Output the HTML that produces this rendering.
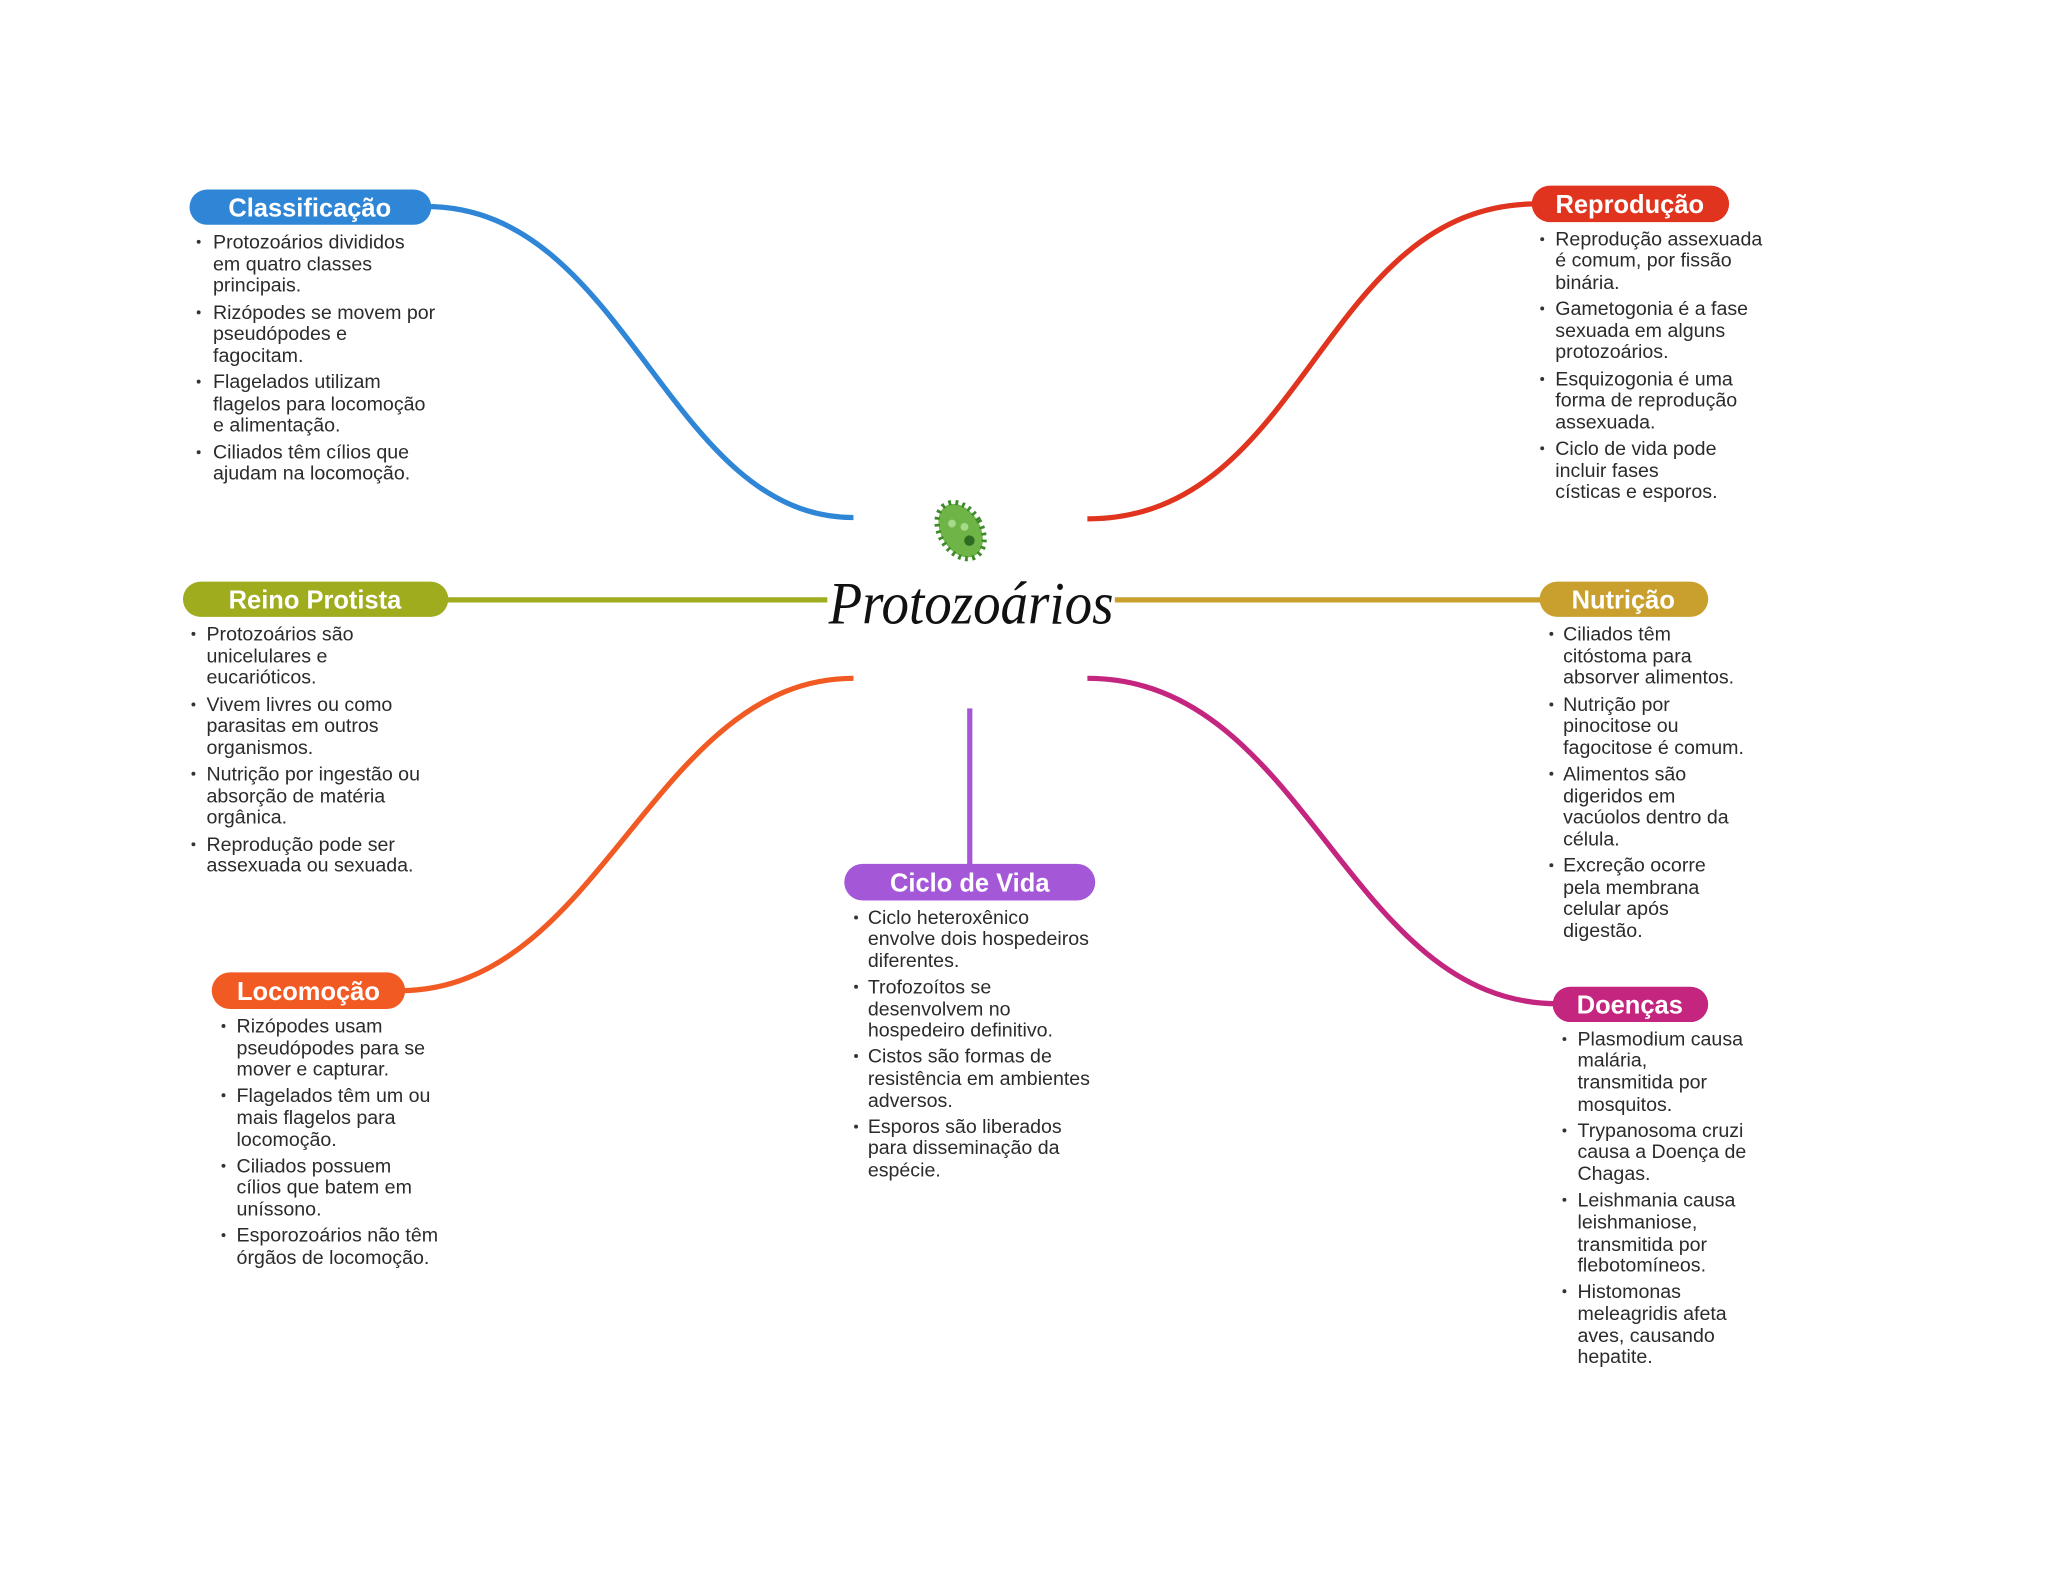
<!DOCTYPE html>
<html><head><meta charset="utf-8"><style>
html,body{margin:0;padding:0;background:#fff;}
svg{display:block;}
.t{font-family:"Liberation Sans",sans-serif;font-size:15px;fill:#2b2b2b;}
.h{font-family:"Liberation Sans",sans-serif;font-size:19.5px;font-weight:bold;fill:#fff;text-anchor:middle;}
</style></head><body>
<svg width="2048" height="1569" viewBox="0 0 1567 1200.5" xmlns="http://www.w3.org/2000/svg">
<rect width="1567" height="1201" fill="#fff"/>
<g fill="none" stroke-width="4">
<path d="M326,158 C480,158 510,396 653,396" stroke="#2f86d6"/>
<path d="M832,397 C1000,397 1010,156 1176,156" stroke="#e0341f"/>
<path d="M340,459 L633,459" stroke="#9fac1e"/>
<path d="M853,459 L1180,459" stroke="#c9a02e"/>
<path d="M306,758 C460,758 500,519 653,519" stroke="#f25a24"/>
<path d="M832,519 C1000,519 1030,768 1192,768" stroke="#c4257f"/>
<path d="M742,542 L742,663" stroke="#a458d8"/>
</g>
<rect x="145" y="145" width="185" height="27" rx="13.5" fill="#2f86d6"/>
<text class="h" x="237" y="165.5">Classificação</text>
<rect x="1172" y="142" width="151" height="28" rx="14" fill="#e0341f"/>
<text class="h" x="1247" y="163">Reprodução</text>
<rect x="140" y="445" width="203" height="27" rx="13.5" fill="#9fac1e"/>
<text class="h" x="241" y="465.5">Reino Protista</text>
<rect x="1178" y="445" width="129" height="27" rx="13.5" fill="#c9a02e"/>
<text class="h" x="1242" y="465.5">Nutrição</text>
<rect x="162" y="744" width="148" height="28" rx="14" fill="#f25a24"/>
<text class="h" x="236" y="765">Locomoção</text>
<rect x="1188" y="755" width="119" height="27" rx="13.5" fill="#c4257f"/>
<text class="h" x="1247" y="775.5">Doenças</text>
<rect x="646" y="661" width="192" height="28" rx="14" fill="#a458d8"/>
<text class="h" x="742" y="682">Ciclo de Vida</text>

<g transform="translate(735,406) rotate(-30)">
<ellipse cx="0" cy="0" rx="15" ry="22" fill="#6fb447" stroke="#3e8a2a" stroke-width="6" stroke-dasharray="2 3"/>
<ellipse cx="0" cy="0" rx="14" ry="21" fill="#6fb447"/>
<circle cx="-3" cy="-8" r="3" fill="#a6d98a"/><circle cx="4" cy="-1" r="3" fill="#a6d98a"/><circle cx="2" cy="10" r="4" fill="#2f6b22"/>
</g>
<text x="743" y="477" text-anchor="middle" font-family="Liberation Serif,serif" font-style="italic" font-size="46" fill="#111" textLength="218" lengthAdjust="spacingAndGlyphs">Protozoários</text>

<g class="t">
<circle cx="152" cy="185" r="1.5" fill="#333"/><circle cx="152" cy="239" r="1.5" fill="#333"/><circle cx="152" cy="292" r="1.5" fill="#333"/><circle cx="152" cy="346" r="1.5" fill="#333"/>
<text x="163" y="190">Protozoários divididos</text><text x="163" y="207">em quatro classes</text><text x="163" y="223">principais.</text>
<text x="163" y="244">Rizópodes se movem por</text><text x="163" y="260">pseudópodes e</text><text x="163" y="277">fagocitam.</text>
<text x="163" y="297">Flagelados utilizam</text><text x="163" y="314">flagelos para locomoção</text><text x="163" y="330">e alimentação.</text>
<text x="163" y="351">Ciliados têm cílios que</text><text x="163" y="367">ajudam na locomoção.</text>

<circle cx="1180" cy="183" r="1.5" fill="#333"/><circle cx="1180" cy="236" r="1.5" fill="#333"/><circle cx="1180" cy="290" r="1.5" fill="#333"/><circle cx="1180" cy="343" r="1.5" fill="#333"/>
<text x="1190" y="188">Reprodução assexuada</text><text x="1190" y="204">é comum, por fissão</text><text x="1190" y="221">binária.</text>
<text x="1190" y="241">Gametogonia é a fase</text><text x="1190" y="258">sexuada em alguns</text><text x="1190" y="274">protozoários.</text>
<text x="1190" y="295">Esquizogonia é uma</text><text x="1190" y="311">forma de reprodução</text><text x="1190" y="328">assexuada.</text>
<text x="1190" y="348">Ciclo de vida pode</text><text x="1190" y="365">incluir fases</text><text x="1190" y="381">císticas e esporos.</text>

<circle cx="148" cy="485" r="1.5" fill="#333"/><circle cx="148" cy="539" r="1.5" fill="#333"/><circle cx="148" cy="592" r="1.5" fill="#333"/><circle cx="148" cy="646" r="1.5" fill="#333"/>
<text x="158" y="490">Protozoários são</text><text x="158" y="507">unicelulares e</text><text x="158" y="523">eucarióticos.</text>
<text x="158" y="544">Vivem livres ou como</text><text x="158" y="560">parasitas em outros</text><text x="158" y="577">organismos.</text>
<text x="158" y="597">Nutrição por ingestão ou</text><text x="158" y="614">absorção de matéria</text><text x="158" y="630">orgânica.</text>
<text x="158" y="651">Reprodução pode ser</text><text x="158" y="667">assexuada ou sexuada.</text>

<circle cx="1187" cy="485" r="1.5" fill="#333"/><circle cx="1187" cy="539" r="1.5" fill="#333"/><circle cx="1187" cy="592" r="1.5" fill="#333"/><circle cx="1187" cy="662" r="1.5" fill="#333"/>
<text x="1196" y="490">Ciliados têm</text><text x="1196" y="507">citóstoma para</text><text x="1196" y="523">absorver alimentos.</text>
<text x="1196" y="544">Nutrição por</text><text x="1196" y="560">pinocitose ou</text><text x="1196" y="577">fagocitose é comum.</text>
<text x="1196" y="597">Alimentos são</text><text x="1196" y="614">digeridos em</text><text x="1196" y="630">vacúolos dentro da</text><text x="1196" y="647">célula.</text>
<text x="1196" y="667">Excreção ocorre</text><text x="1196" y="684">pela membrana</text><text x="1196" y="700">celular após</text><text x="1196" y="717">digestão.</text>

<circle cx="171" cy="785" r="1.5" fill="#333"/><circle cx="171" cy="838" r="1.5" fill="#333"/><circle cx="171" cy="892" r="1.5" fill="#333"/><circle cx="171" cy="945" r="1.5" fill="#333"/>
<text x="181" y="790">Rizópodes usam</text><text x="181" y="807">pseudópodes para se</text><text x="181" y="823">mover e capturar.</text>
<text x="181" y="843">Flagelados têm um ou</text><text x="181" y="860">mais flagelos para</text><text x="181" y="877">locomoção.</text>
<text x="181" y="897">Ciliados possuem</text><text x="181" y="913">cílios que batem em</text><text x="181" y="930">uníssono.</text>
<text x="181" y="950">Esporozoários não têm</text><text x="181" y="967">órgãos de locomoção.</text>

<circle cx="655" cy="702" r="1.5" fill="#333"/><circle cx="655" cy="755" r="1.5" fill="#333"/><circle cx="655" cy="808" r="1.5" fill="#333"/><circle cx="655" cy="862" r="1.5" fill="#333"/>
<text x="664" y="707">Ciclo heteroxênico</text><text x="664" y="723">envolve dois hospedeiros</text><text x="664" y="740">diferentes.</text>
<text x="664" y="760">Trofozoítos se</text><text x="664" y="777">desenvolvem no</text><text x="664" y="793">hospedeiro definitivo.</text>
<text x="664" y="813">Cistos são formas de</text><text x="664" y="830">resistência em ambientes</text><text x="664" y="847">adversos.</text>
<text x="664" y="867">Esporos são liberados</text><text x="664" y="883">para disseminação da</text><text x="664" y="900">espécie.</text>

<circle cx="1197" cy="795" r="1.5" fill="#333"/><circle cx="1197" cy="865" r="1.5" fill="#333"/><circle cx="1197" cy="918" r="1.5" fill="#333"/><circle cx="1197" cy="988" r="1.5" fill="#333"/>
<text x="1207" y="800">Plasmodium causa</text><text x="1207" y="816">malária,</text><text x="1207" y="833">transmitida por</text><text x="1207" y="850">mosquitos.</text>
<text x="1207" y="870">Trypanosoma cruzi</text><text x="1207" y="886">causa a Doença de</text><text x="1207" y="903">Chagas.</text>
<text x="1207" y="923">Leishmania causa</text><text x="1207" y="940">leishmaniose,</text><text x="1207" y="957">transmitida por</text><text x="1207" y="973">flebotomíneos.</text>
<text x="1207" y="993">Histomonas</text><text x="1207" y="1010">meleagridis afeta</text><text x="1207" y="1027">aves, causando</text><text x="1207" y="1043">hepatite.</text>
</g>
</svg>
</body></html>
